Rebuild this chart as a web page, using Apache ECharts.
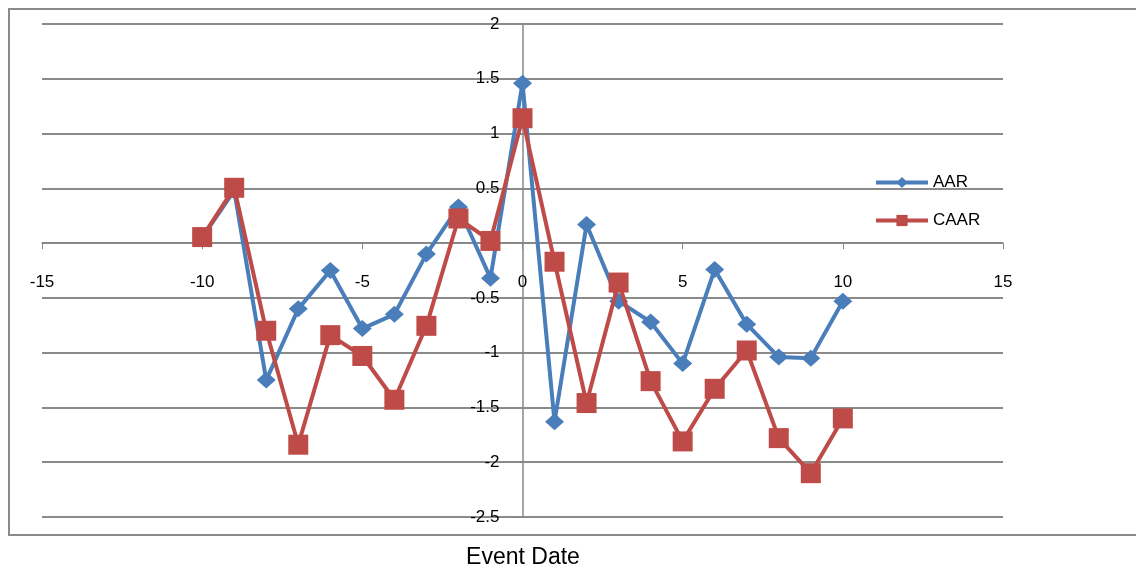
<!DOCTYPE html>
<html><head><meta charset="utf-8">
<script src="https://cdn.jsdelivr.net/npm/echarts@6/dist/echarts.min.js"></script>
<style>html,body{margin:0;padding:0;background:#fff}#c{width:1136px;height:569px}</style>
</head><body><div id="c"></div>
<script>
const days = [-10,-9,-8,-7,-6,-5,-4,-3,-2,-1,0,1,2,3,4,5,6,7,8,9,10];
const aar  = [0.05,0.48,-1.25,-0.60,-0.25,-0.78,-0.65,-0.10,0.33,-0.32,1.46,-1.63,0.17,-0.53,-0.72,-1.10,-0.24,-0.74,-1.04,-1.05,-0.53];
const caar = [0.055,0.505,-0.80,-1.84,-0.84,-1.03,-1.43,-0.755,0.225,0.02,1.14,-0.17,-1.46,-0.36,-1.26,-1.81,-1.33,-0.98,-1.78,-2.10,-1.60];
const xTitle = 'Event Date';

const font = 'Liberation Sans, Arial, sans-serif';
const W = 1136, H = 569;
const G = {left: 42, right: 133, top: 24, bottom: 52};
const xMin = -15, xMax = 15, yMin = -2.5, yMax = 2;
const plotW = W - G.left - G.right, plotH = H - G.top - G.bottom;
// offsets that put each axis on the other's zero
const xOff = -(plotH * (0 - yMin) / (yMax - yMin));
const yOff = -(plotW * (0 - xMin) / (xMax - xMin));

const chart = echarts.init(document.getElementById('c'));
chart.setOption({
  animation: false,
  textStyle: {fontFamily: font},
  grid: Object.assign({containLabel: false, outerBoundsMode: 'none'}, G),
  graphic: [{
    type: 'rect', shape: {x: 9, y: 9, width: 1140, height: 526},
    style: {fill: 'none', stroke: '#8a8a8a', lineWidth: 2}, silent: true, z: -1
  }, {
    type: 'text', x: 523, y: 558,
    style: {text: xTitle, fontSize: 23, fill: '#000', fontFamily: font, align: 'center', verticalAlign: 'middle'}
  }],
  legend: {
    orient: 'vertical', left: 874, top: 174, padding: 0, itemWidth: 52, itemHeight: 14, itemGap: 21,
    lineStyle: {width: 4},
    textStyle: {fontSize: 17, color: '#000', fontFamily: font},
    data: ['AAR', 'CAAR']
  },
  xAxis: {
    type: 'value', min: xMin, max: xMax, interval: 5, position: 'bottom', offset: xOff,
    axisLine: {onZero: false, lineStyle: {color: '#888', width: 1.5}},
    axisTick: {show: true, length: 6, lineStyle: {color: '#888'}},
    axisLabel: {fontSize: 17, color: '#000', margin: 31},
    splitLine: {show: false}
  },
  yAxis: {
    type: 'value', min: yMin, max: yMax, interval: 0.5, position: 'left', offset: yOff,
    axisLine: {show: true, onZero: false, lineStyle: {color: '#888', width: 1.5}},
    axisTick: {show: true, length: 5, lineStyle: {color: '#888'}},
    axisLabel: {fontSize: 17, color: '#000', margin: 23},
    splitLine: {show: true, lineStyle: {color: '#8a8a8a', width: 2}}
  },
  series: [{
    name: 'AAR', type: 'line', data: days.map((d,i)=>[d, aar[i]]),
    symbol: 'diamond', symbolSize: [19, 17], showAllSymbol: true,
    itemStyle: {color: '#4A7EBB'}, lineStyle: {color: '#4A7EBB', width: 4}, z: 2
  }, {
    name: 'CAAR', type: 'line', data: days.map((d,i)=>[d, caar[i]]),
    symbol: 'rect', symbolSize: 20, showAllSymbol: true,
    itemStyle: {color: '#BE4B48'}, lineStyle: {color: '#BE4B48', width: 4}, z: 3
  }]
});
</script></body></html>
